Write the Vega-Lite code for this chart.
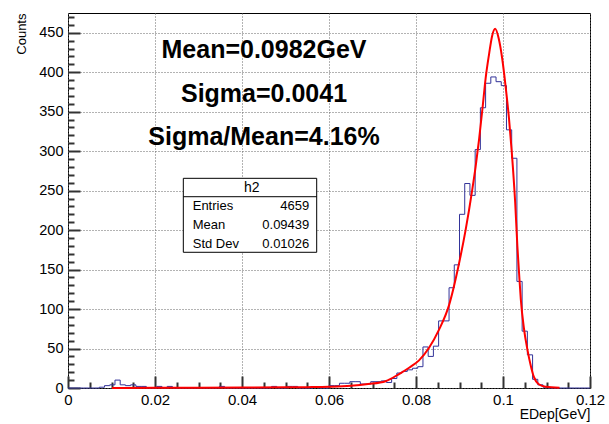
{
  "$schema": "https://vega.github.io/schema/vega-lite/v6.json",
  "width": 522,
  "height": 375,
  "autosize": {"type": "none"},
  "padding": {"left": 68, "top": 13, "right": 19, "bottom": 36},
  "background": "white",
  "config": {"view": {"stroke": "black", "strokeWidth": 1}, "font": "Liberation Sans"},
  "resolve": {"axis": {"x": "independent", "y": "independent"}},
  "datasets": {
    "hist": [
      {"x": 0, "n": 0}, {"x": 0.0012, "n": 0}, {"x": 0.0024, "n": 0}, {"x": 0.0036, "n": 0}, {"x": 0.0048, "n": 0},
      {"x": 0.006, "n": 0}, {"x": 0.0072, "n": 1}, {"x": 0.0084, "n": 3}, {"x": 0.0096, "n": 4}, {"x": 0.0108, "n": 10},
      {"x": 0.012, "n": 4}, {"x": 0.0132, "n": 3}, {"x": 0.0144, "n": 4}, {"x": 0.0156, "n": 2}, {"x": 0.0168, "n": 2},
      {"x": 0.018, "n": 0}, {"x": 0.0192, "n": 0}, {"x": 0.0204, "n": 2}, {"x": 0.0216, "n": 0}, {"x": 0.0228, "n": 2},
      {"x": 0.024, "n": 0}, {"x": 0.0252, "n": 0}, {"x": 0.0264, "n": 0}, {"x": 0.0276, "n": 0}, {"x": 0.0288, "n": 0},
      {"x": 0.03, "n": 0}, {"x": 0.0312, "n": 0}, {"x": 0.0324, "n": 0}, {"x": 0.0336, "n": 0}, {"x": 0.0348, "n": 2},
      {"x": 0.036, "n": 0}, {"x": 0.0372, "n": 0}, {"x": 0.0384, "n": 0}, {"x": 0.0396, "n": 0}, {"x": 0.0408, "n": 0},
      {"x": 0.042, "n": 0}, {"x": 0.0432, "n": 0}, {"x": 0.0444, "n": 0}, {"x": 0.0456, "n": 0}, {"x": 0.0468, "n": 2},
      {"x": 0.048, "n": 0}, {"x": 0.0492, "n": 0}, {"x": 0.0504, "n": 2}, {"x": 0.0516, "n": 2}, {"x": 0.0528, "n": 0},
      {"x": 0.054, "n": 0}, {"x": 0.0552, "n": 0}, {"x": 0.0564, "n": 1}, {"x": 0.0576, "n": 0}, {"x": 0.0588, "n": 0},
      {"x": 0.06, "n": 3}, {"x": 0.0612, "n": 3}, {"x": 0.0624, "n": 6}, {"x": 0.0636, "n": 6}, {"x": 0.0648, "n": 8},
      {"x": 0.066, "n": 8}, {"x": 0.0672, "n": 5}, {"x": 0.0684, "n": 5}, {"x": 0.0696, "n": 8}, {"x": 0.0708, "n": 8},
      {"x": 0.072, "n": 9}, {"x": 0.0732, "n": 7}, {"x": 0.0744, "n": 12}, {"x": 0.0756, "n": 19}, {"x": 0.0768, "n": 21},
      {"x": 0.078, "n": 23}, {"x": 0.0792, "n": 25}, {"x": 0.0804, "n": 27}, {"x": 0.0816, "n": 52}, {"x": 0.0828, "n": 40},
      {"x": 0.084, "n": 53}, {"x": 0.0852, "n": 85}, {"x": 0.0864, "n": 85}, {"x": 0.0876, "n": 127}, {"x": 0.0888, "n": 156},
      {"x": 0.09, "n": 220}, {"x": 0.0912, "n": 259}, {"x": 0.0924, "n": 244}, {"x": 0.0936, "n": 302}, {"x": 0.0948, "n": 355},
      {"x": 0.096, "n": 386}, {"x": 0.0972, "n": 394}, {"x": 0.0984, "n": 388}, {"x": 0.0996, "n": 383}, {"x": 0.1008, "n": 327},
      {"x": 0.102, "n": 291}, {"x": 0.1032, "n": 135}, {"x": 0.1044, "n": 72}, {"x": 0.1056, "n": 42}, {"x": 0.1068, "n": 11},
      {"x": 0.108, "n": 4}, {"x": 0.1092, "n": 1}, {"x": 0.1104, "n": 0}, {"x": 0.1116, "n": 0}, {"x": 0.1128, "n": 0},
      {"x": 0.114, "n": 0}, {"x": 0.1152, "n": 0}, {"x": 0.1164, "n": 0}, {"x": 0.1176, "n": 0}, {"x": 0.1188, "n": 0},
      {"x": 0.12, "n": 0}
    ],
    "fit": [
      {"x": 0.0101, "f": 0.1}, {"x": 0.02, "f": 0.2}, {"x": 0.03, "f": 0.3}, {"x": 0.04, "f": 0.5}, {"x": 0.05, "f": 0.8},
      {"x": 0.055, "f": 1.1}, {"x": 0.06, "f": 1.6}, {"x": 0.065, "f": 2.8}, {"x": 0.069, "f": 5}, {"x": 0.073, "f": 8.6},
      {"x": 0.0762, "f": 18}, {"x": 0.0785, "f": 26}, {"x": 0.0807, "f": 35}, {"x": 0.083, "f": 51}, {"x": 0.0853, "f": 74},
      {"x": 0.0876, "f": 105}, {"x": 0.0899, "f": 158}, {"x": 0.0914, "f": 200}, {"x": 0.0929, "f": 250}, {"x": 0.0937, "f": 280},
      {"x": 0.0945, "f": 315}, {"x": 0.0953, "f": 355}, {"x": 0.096, "f": 392}, {"x": 0.0968, "f": 423}, {"x": 0.0975, "f": 446},
      {"x": 0.0982, "f": 455}, {"x": 0.099, "f": 443}, {"x": 0.0998, "f": 418}, {"x": 0.1006, "f": 382}, {"x": 0.1014, "f": 340},
      {"x": 0.102, "f": 300}, {"x": 0.1028, "f": 235}, {"x": 0.1033, "f": 180}, {"x": 0.1037, "f": 145}, {"x": 0.1041, "f": 112},
      {"x": 0.1048, "f": 76}, {"x": 0.1056, "f": 49}, {"x": 0.1064, "f": 28}, {"x": 0.1071, "f": 14}, {"x": 0.1083, "f": 4.4},
      {"x": 0.1098, "f": 1.5}, {"x": 0.113, "f": 0.3}
    ]
  },
  "layer": [
    {
      "data": {"name": "hist"},
      "mark": {"type": "line", "interpolate": "step-after", "color": "#333399", "strokeWidth": 1},
      "encoding": {
        "x": {
          "field": "x", "type": "quantitative",
          "scale": {"domain": [0, 0.12], "nice": false, "zero": false},
          "axis": {
            "orient": "bottom",
            "values": [0, 0.02, 0.04, 0.06, 0.08, 0.1, 0.12],
            "labelExpr": "format(datum.value, '~g')",
            "ticks": false,
            "domain": false,
            "grid": true,
            "gridColor": "#666666",
            "gridDash": [1, 2],
            "gridWidth": 1,
            "labelFontSize": 15,
            "labelColor": "black",
            "labelPadding": 4,
            "labelFlush": false,
            "labelOverlap": false,
            "title": "EDep[GeV]",
            "titleX": 522,
            "titleY": 30,
            "titleAlign": "right",
            "titleBaseline": "alphabetic",
            "titleFontSize": 14,
            "titleFontWeight": "normal",
            "titleColor": "black"
          }
        },
        "y": {
          "field": "n", "type": "quantitative",
          "scale": {"domain": [0, 475], "nice": false},
          "axis": {
            "orient": "left",
            "values": [0, 50, 100, 150, 200, 250, 300, 350, 400, 450],
            "labelExpr": "format(datum.value, 'd')",
            "ticks": false,
            "domain": false,
            "grid": true,
            "gridColor": "#666666",
            "gridDash": [1, 2],
            "gridWidth": 1,
            "labelFontSize": 14.5,
            "labelColor": "black",
            "labelPadding": 5,
            "labelFlush": false,
            "labelOverlap": false,
            "title": "Counts",
            "titleAngle": 270,
            "titleX": -43,
            "titleY": 0,
            "titleAlign": "right",
            "titleBaseline": "alphabetic",
            "titleFontSize": 13,
            "titleFontWeight": "normal",
            "titleColor": "black"
          }
        }
      }
    },
    {
      "data": {"name": "fit"},
      "mark": {"type": "line", "interpolate": "monotone", "color": "#ff0000", "strokeWidth": 2},
      "encoding": {
        "x": {
          "field": "x", "type": "quantitative",
          "axis": {
            "orient": "top",
            "offset": -375,
            "values": [0.005, 0.01, 0.015, 0.025, 0.03, 0.035, 0.045, 0.05, 0.055, 0.065, 0.07, 0.075, 0.085, 0.09, 0.095, 0.105, 0.11, 0.115],
            "ticks": true,
            "tickSize": 6,
            "tickColor": "#333333",
            "tickWidth": 2,
            "labels": false,
            "domain": false,
            "grid": false,
            "title": null
          }
        },
        "y": {
          "field": "f", "type": "quantitative",
          "axis": {
            "orient": "right",
            "offset": -522,
            "values": [10, 20, 30, 40, 60, 70, 80, 90, 110, 120, 130, 140, 160, 170, 180, 190, 210, 220, 230, 240, 260, 270, 280, 290, 310, 320, 330, 340, 360, 370, 380, 390, 410, 420, 430, 440, 460, 470],
            "ticks": true,
            "tickSize": 6,
            "tickColor": "#333333",
            "tickWidth": 2,
            "labels": false,
            "domain": false,
            "grid": false,
            "title": null
          }
        }
      }
    },
    {
      "data": {"values": [{"t": "Mean=0.0982GeV\nSigma=0.0041\nSigma/Mean=4.16%"}]},
      "mark": {"type": "text", "align": "center", "baseline": "alphabetic", "fontSize": 25, "fontWeight": "bold", "font": "Liberation Sans", "color": "black", "lineBreak": "\n", "lineHeight": 43.4},
      "encoding": {
        "x": {"datum": 0.04506, "type": "quantitative", "axis": null},
        "y": {"datum": 417.6, "type": "quantitative", "axis": null},
        "text": {"field": "t"}
      }
    },
    {
      "data": {"values": [{"t": "h2"}]},
      "mark": {"type": "rect", "fill": "white", "stroke": "black", "strokeWidth": 1},
      "encoding": {
        "x": {
          "datum": 0.02651, "type": "quantitative",
          "axis": {
            "orient": "top",
            "offset": -375,
            "values": [0, 0.02, 0.04, 0.06, 0.08, 0.1, 0.12],
            "ticks": true,
            "tickSize": 12,
            "tickColor": "#333333",
            "tickWidth": 2,
            "labels": false,
            "domain": false,
            "grid": false,
            "title": null
          }
        },
        "x2": {"datum": 0.05717},
        "y": {
          "datum": 265.6, "type": "quantitative",
          "axis": {
            "orient": "right",
            "offset": -522,
            "values": [0, 50, 100, 150, 200, 250, 300, 350, 400, 450],
            "ticks": true,
            "tickSize": 12,
            "tickColor": "#333333",
            "tickWidth": 2,
            "labels": false,
            "domain": false,
            "grid": false,
            "title": null
          }
        },
        "y2": {"datum": 171.9}
      }
    },
    {
      "data": {"values": [{"t": "h2"}]},
      "mark": {"type": "rule", "color": "black", "strokeWidth": 1},
      "encoding": {
        "x": {"datum": 0.02651, "type": "quantitative", "axis": null},
        "x2": {"datum": 0.05717},
        "y": {"datum": 242.3, "type": "quantitative", "axis": null}
      }
    },
    {
      "data": {"values": [{"t": "h2"}]},
      "mark": {"type": "text", "align": "center", "baseline": "alphabetic", "fontSize": 14, "font": "Liberation Sans", "color": "black"},
      "encoding": {
        "x": {"datum": 0.04223, "type": "quantitative", "axis": null},
        "y": {"datum": 247.9, "type": "quantitative", "axis": null},
        "text": {"field": "t"}
      }
    },
    {
      "data": {"values": [{"t": "Entries\nMean\nStd Dev"}]},
      "mark": {"type": "text", "align": "left", "baseline": "alphabetic", "fontSize": 13, "font": "Liberation Sans", "color": "black", "lineBreak": "\n", "lineHeight": 18.8},
      "encoding": {
        "x": {"datum": 0.02867, "type": "quantitative", "axis": null},
        "y": {"datum": 225.5, "type": "quantitative", "axis": null},
        "text": {"field": "t"}
      }
    },
    {
      "data": {"values": [{"t": "4659\n0.09439\n0.01026"}]},
      "mark": {"type": "text", "align": "right", "baseline": "alphabetic", "fontSize": 13, "font": "Liberation Sans", "color": "black", "lineBreak": "\n", "lineHeight": 18.8},
      "encoding": {
        "x": {"datum": 0.05547, "type": "quantitative", "axis": null},
        "y": {"datum": 225.5, "type": "quantitative", "axis": null},
        "text": {"field": "t"}
      }
    }
  ]
}
